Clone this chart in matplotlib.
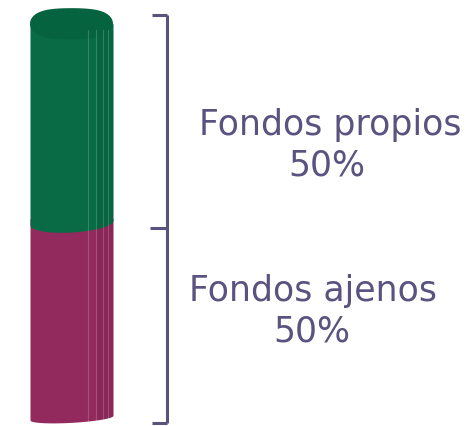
import numpy as np
import matplotlib.pyplot as plt

# datos del grafico (de abajo hacia arriba)
categorias = ["Fondos ajenos", "Fondos propios"]
porcentajes = [50, 50]
colores = ["#922a5e", "#086b45"]
color_tapa = "#06633f"
color_texto = "#5b5280"

W, H = 474, 426
PX = 3.9          # pixeles por punto porcentual
Y0 = 420          # pixel de la base del cilindro

def px2pct(py):
    return (Y0 - py) / PX

fig = plt.figure(figsize=(W / 100, H / 100), dpi=100)
ax = fig.add_axes([0, 0, 1, 1])
ax.set_xlim(0, W)
ax.set_ylim(px2pct(H), px2pct(0))
ax.axis("off")

x0, x1 = 30, 113
xs = np.linspace(x0, x1, 200)
cx, a = (x0 + x1) / 2, (x1 - x0) / 2
u = (xs - cx) / a

def arco(y, b):
    # arco frontal inferior con una ligera inclinacion
    return y - b * np.sqrt(np.clip(1 - u ** 2, 0, 1)) + 0.6 * (u + 1)

bases = np.concatenate([[0], np.cumsum(porcentajes)[:-1]])
topes = np.cumsum(porcentajes)

for base, tope, col in zip(bases, topes, colores):
    ax.fill_between(xs, tope + 1.6, arco(base, 1.2 if base == 0 else 2.4), color=col, lw=0)

# facetas verticales
for xf in [88, 96, 103, 108]:
    ax.plot([xf, xf], [arco(0, 1.2)[np.argmin(abs(xs - xf))], topes[-1]],
            color="white", alpha=0.18, lw=0.8)
ax.fill_between(xs[xs > 96], arco(0, 1.2)[xs > 96], topes[-1],
                color="black", alpha=0.06, lw=0)

# tapa superior
t = np.linspace(0, 2 * np.pi, 300)
ax.fill(cx + a * np.cos(t), topes[-1] + 1.6 + 4.3 * np.sin(t) + 0.3 * np.sin(3 * t),
        color=color_tapa, lw=0)

# corchetes
xb = 167
ys_b = [px2pct(423), px2pct(228), px2pct(15)]
ax.plot([xb, xb], [ys_b[0], ys_b[2]], color=color_texto, lw=2.2, solid_capstyle="butt")
for yb, xl in zip(ys_b, [152, 150, 152]):
    ax.plot([xl, xb], [yb, yb], color=color_texto, lw=2.2, solid_capstyle="butt")

# etiquetas (x del nombre, base del nombre, x del %, base del %)
pos_texto = [(313.5, 301, 312, 342), (330, 135, 327, 176)]
for cat, p, (xt, y1, xp, y2) in zip(categorias, porcentajes, pos_texto):
    ax.text(xt, px2pct(y1), cat, ha="center", va="baseline", fontsize=25, color=color_texto)
    ax.text(xp, px2pct(y2), f"{p}%", ha="center", va="baseline", fontsize=25, color=color_texto)

fig.savefig("out.png", dpi=100)
